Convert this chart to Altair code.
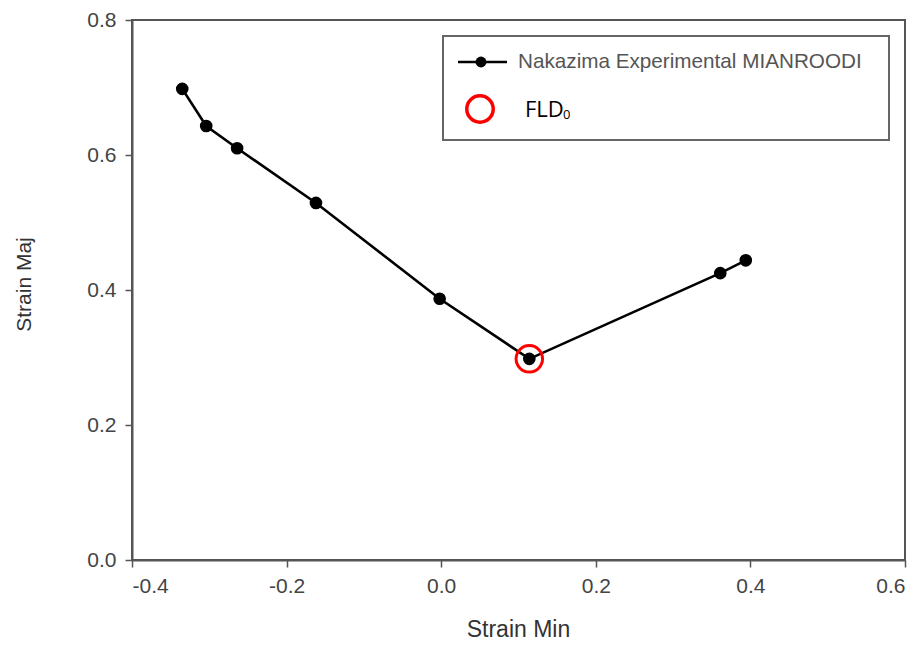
import altair as alt
import pandas as pd

# Data
strain_min = [-0.335, -0.304, -0.264, -0.162, -0.002, 0.114, 0.361, 0.394]
strain_maj = [0.698, 0.643, 0.610, 0.529, 0.387, 0.298, 0.425, 0.444]
fld0_min = [0.114]
fld0_maj = [0.298]
series_label = "Nakazima Experimental MIANROODI"
fld_label = "FLD"
fld_sub = "0"
x_ticks = [-0.4, -0.2, 0.0, 0.2, 0.4, 0.6]
y_ticks = [0.0, 0.2, 0.4, 0.6, 0.8]

df = pd.DataFrame({"x": strain_min, "y": strain_maj, "order": list(range(len(strain_min)))})
df_fld = pd.DataFrame({"x": fld0_min, "y": fld0_maj})
one = pd.DataFrame({"a": [0]})

W, H = 773, 540
FONT = "Liberation Sans"
AX = "#555555"
LBL = "#444444"
label_expr = "replace(format(datum.value, '.1f'), '\u2212', '-')"

xscale = alt.Scale(domain=[-0.4, 0.6], nice=False, zero=False)
yscale = alt.Scale(domain=[0.0, 0.8], nice=False, zero=False)

xaxis = alt.Axis(values=x_ticks, labelExpr=label_expr, grid=False, title="Strain Min",
                 tickSize=7, tickColor=AX, tickWidth=1.5, domainColor=AX, domainWidth=2,
                 labelFont=FONT, labelFontSize=21, labelColor=LBL, labelPadding=8,
                 titleFont=FONT, titleFontSize=23, titleColor="#333333", titleFontWeight="normal",
                 titleX=386, titleY=76, titleBaseline="alphabetic", titleAnchor="middle", titleAlign="center")
yaxis = alt.Axis(values=y_ticks, labelExpr=label_expr, grid=False, title="Strain Maj",
                 tickSize=7, tickColor=AX, tickWidth=1.5, domainColor=AX, domainWidth=2,
                 labelFont=FONT, labelFontSize=21, labelColor=LBL, labelPadding=9,
                 titleFont=FONT, titleFontSize=21, titleColor="#333333", titleFontWeight="normal",
                 titleX=-108, titleY=264, titleAngle=-90, titleBaseline="middle", titleAlign="center")

base = alt.Chart(df)
line = base.mark_line(color="black", strokeWidth=2.6).encode(
    x=alt.X("x:Q", scale=xscale, axis=xaxis),
    y=alt.Y("y:Q", scale=yscale, axis=yaxis),
    order="order:Q",
)
pts = base.mark_point(filled=True, shape="circle", color="black", size=160, opacity=1).encode(
    x=alt.X("x:Q", scale=xscale),
    y=alt.Y("y:Q", scale=yscale),
)
ring = alt.Chart(df_fld).mark_point(shape="circle", filled=False, stroke="#ff0000",
                                    strokeWidth=3, size=700, opacity=1).encode(
    x=alt.X("x:Q", scale=xscale),
    y=alt.Y("y:Q", scale=yscale),
)

# legend
leg_box = alt.Chart(one).mark_rect(fill="white", stroke="#666666", strokeWidth=2).encode(
    x=alt.value(311), x2=alt.value(757), y=alt.value(16), y2=alt.value(120))
leg_line = alt.Chart(one).mark_rule(color="black", strokeWidth=2.5).encode(
    x=alt.value(326), x2=alt.value(375), y=alt.value(42))
leg_dot = alt.Chart(one).mark_point(filled=True, shape="circle", color="black", size=120, opacity=1).encode(
    x=alt.value(349), y=alt.value(42))
leg_text = alt.Chart(one).mark_text(text=series_label, align="left", baseline="middle",
                                    font=FONT, fontSize=20.7, color="#555555").encode(
    x=alt.value(386), y=alt.value(42))
leg_ring = alt.Chart(one).mark_point(shape="circle", filled=False, stroke="#ff0000",
                                     strokeWidth=3.5, size=700, opacity=1).encode(
    x=alt.value(348), y=alt.value(89))
leg_fld = alt.Chart(one).mark_text(text=fld_label, align="left", baseline="alphabetic",
                                   font="Open Sans", fontSize=22, color="black").encode(
    x=alt.value(393), y=alt.value(97))
leg_sub = alt.Chart(one).mark_text(text=fld_sub, align="left", baseline="alphabetic",
                                   font="Open Sans", fontSize=13, color="black").encode(
    x=alt.value(431), y=alt.value(99))

chart = alt.layer(line, pts, ring, leg_box, leg_line, leg_dot, leg_text, leg_ring, leg_fld, leg_sub).properties(
    width=W, height=H,
    autosize=alt.AutoSizeParams(type="none"),
    padding={"left": 124, "top": 12, "right": 9, "bottom": 81},
    background="white",
).configure_view(stroke=AX, strokeWidth=2)

chart.save("out.html", embed_options={"renderer": "svg", "actions": False})
